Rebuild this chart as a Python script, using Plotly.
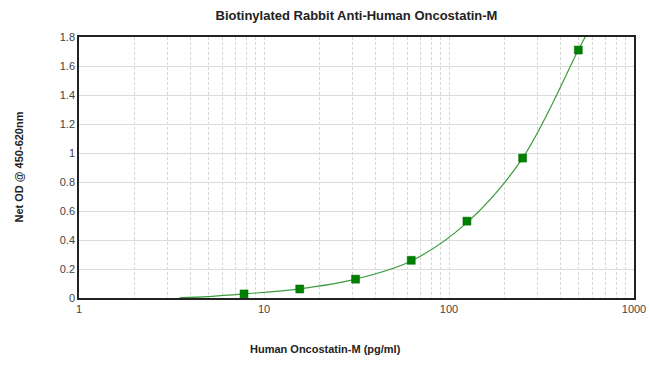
import plotly.graph_objects as go

# Standard points
conc = [7.8, 15.6, 31.25, 62.5, 125, 250, 500]
od = [0.028, 0.062, 0.13, 0.26, 0.53, 0.965, 1.71]

# Fitted curve
curve_x = [3.5, 5, 7.8, 15.6, 31.25, 62.5, 125, 250, 500, 560]
curve_y = [0.002, 0.01, 0.028, 0.063, 0.13, 0.255, 0.52, 0.965, 1.71, 1.83]

decades = [1, 10, 100, 1000]
tick_vals = []
tick_text = []
for d in decades[:-1]:
    for m in range(1, 10):
        tick_vals.append(d * m)
        tick_text.append(str(d) if m == 1 else "")
tick_vals.append(1000)
tick_text.append("1000")

y_ticks = [0, 0.2, 0.4, 0.6, 0.8, 1, 1.2, 1.4, 1.6, 1.8]
y_text = ["0", "0.2", "0.4", "0.6", "0.8", "1", "1.2", "1.4", "1.6", "1.8"]

W, H = 650, 375
L, R, T, B = 79, 16, 37, 77
PW, PH = W - L - R, H - T - B

fig = go.Figure()
fig.add_trace(go.Scatter(x=curve_x, y=curve_y, mode="lines",
                         line=dict(color="#3c9a3c", width=1.2, shape="spline"),
                         hoverinfo="skip", showlegend=False, cliponaxis=True))
fig.add_trace(go.Scatter(x=conc, y=od, mode="markers",
                         marker=dict(symbol="square", size=8, color="#008000",
                                     line=dict(color="#006400", width=0.5)),
                         showlegend=False))

fig.update_layout(
    width=W, height=H,
    margin=dict(l=L, r=R, t=T, b=B, autoexpand=False),
    paper_bgcolor="white", plot_bgcolor="white",
    font=dict(family="Liberation Sans, Arial, sans-serif", size=11, color="#333333"),
    title=dict(text="<b>Biotinylated Rabbit Anti-Human Oncostatin-M</b>",
               x=0.5, xref="paper", xanchor="center", y=1 - 15 / H, yanchor="middle",
               font=dict(size=13, color="#222222")),
    annotations=[
        dict(text="<b>Human Oncostatin-M (pg/ml)</b>", xref="paper", yref="paper",
             x=(W / 2 - L) / PW, y=-51 / PH, xanchor="center", yanchor="middle",
             showarrow=False, font=dict(size=11, color="#222222")),
        dict(text="<b>Net OD @ 450-620nm</b>", xref="paper", yref="paper",
             x=-61 / PW, y=0.5, xanchor="center", yanchor="middle",
             textangle=-90, showarrow=False, font=dict(size=11, color="#222222")),
    ],
)
fig.update_xaxes(
    type="log", range=[0, 3], automargin=False,
    tickvals=tick_vals, ticktext=tick_text,
    showgrid=True, gridcolor="#d6d6d6", griddash="3px,2px", gridwidth=1,
    showline=True, linecolor="#222222", linewidth=1.5, mirror=True,
    ticks="", ticklen=0, tickfont=dict(size=11, color="#444444"),
    zeroline=False,
)
fig.update_yaxes(
    range=[0, 1.8], automargin=False,
    tickvals=y_ticks, ticktext=y_text,
    showgrid=True, gridcolor="#dcdcdc", gridwidth=1,
    showline=True, linecolor="#222222", linewidth=1.5, mirror=True,
    ticks="", tickfont=dict(size=11, color="#444444"),
    zeroline=False,
)

fig.write_html(
    "out.html",
    config={"displayModeBar": False},
    post_script="document.body.style.margin='0';document.body.style.overflow='hidden';",
)
